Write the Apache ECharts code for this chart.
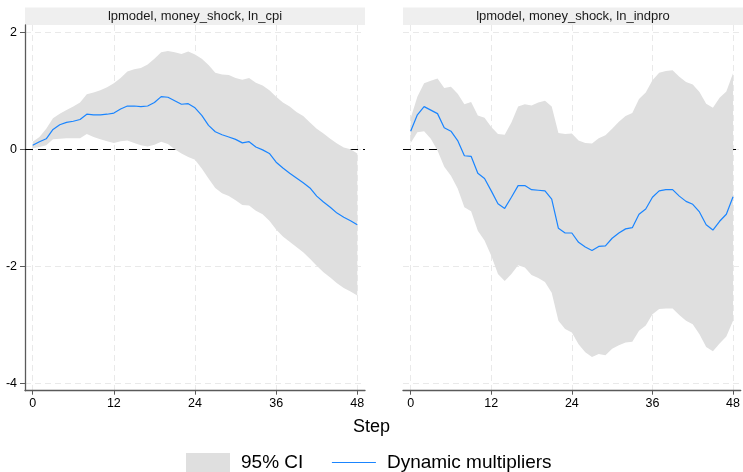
<!DOCTYPE html>
<html>
<head>
<meta charset="utf-8">
<script src="https://cdn.jsdelivr.net/npm/echarts@6/dist/echarts.min.js"></script>
<style>
  html, body { margin: 0; padding: 0; background: #ffffff; }
  #chart { width: 743px; height: 472px; }
</style>
</head>
<body>
<div id="chart"></div>
<script>
// Impulse responses to a money shock, horizons 0..48 (local projections)
const panelTitles = ['lpmodel, money_shock, ln_cpi', 'lpmodel, money_shock, ln_indpro'];
const xTicks = [0, 12, 24, 36, 48];
const yTicks = [-4, -2, 0, 2];

// ln_cpi
const cpiMid = [0.07, 0.13, 0.18, 0.34, 0.42, 0.46, 0.48, 0.51, 0.60, 0.59, 0.59, 0.60, 0.62, 0.69, 0.74, 0.74, 0.73, 0.74, 0.80, 0.90, 0.89, 0.83, 0.77, 0.78, 0.71,
  0.58, 0.41, 0.30, 0.25, 0.21, 0.17, 0.11, 0.13, 0.04, -0.01, -0.07, -0.22, -0.32, -0.41, -0.49, -0.57, -0.66, -0.80, -0.90, -0.99, -1.09, -1.16, -1.22, -1.29];
const cpiUpper = [0.13, 0.21, 0.35, 0.53, 0.61, 0.67, 0.73, 0.80, 0.94, 0.97, 1.01, 1.06, 1.13, 1.22, 1.33, 1.37, 1.39, 1.45, 1.55, 1.66, 1.68, 1.66, 1.63, 1.67, 1.62,
  1.55, 1.44, 1.31, 1.28, 1.27, 1.22, 1.19, 1.22, 1.14, 1.09, 1.01, 0.90, 0.80, 0.73, 0.64, 0.57, 0.46, 0.35, 0.27, 0.18, 0.10, 0.03, 0.00, -0.07];
const cpiLower = [0.02, 0.04, 0.07, 0.17, 0.18, 0.19, 0.19, 0.19, 0.26, 0.21, 0.17, 0.14, 0.11, 0.14, 0.15, 0.11, 0.07, 0.05, 0.08, 0.13, 0.09, 0.00, -0.07, -0.13, -0.18,
  -0.33, -0.50, -0.66, -0.75, -0.80, -0.87, -0.95, -0.96, -1.05, -1.11, -1.22, -1.37, -1.49, -1.58, -1.67, -1.76, -1.87, -1.99, -2.10, -2.19, -2.29, -2.37, -2.43, -2.50];

// ln_indpro
const indMid = [0.31, 0.59, 0.73, 0.67, 0.61, 0.37, 0.31, 0.15, -0.11, -0.12, -0.41, -0.50, -0.71, -0.93, -1.01, -0.82, -0.62, -0.62, -0.69, -0.70, -0.71, -0.85, -1.35, -1.43, -1.43,
  -1.59, -1.67, -1.73, -1.66, -1.65, -1.52, -1.43, -1.36, -1.34, -1.11, -1.02, -0.82, -0.71, -0.69, -0.69, -0.80, -0.89, -0.94, -1.07, -1.29, -1.38, -1.23, -1.11, -0.81];
const indUpper = [0.53, 0.90, 1.13, 1.17, 1.21, 1.05, 1.07, 0.95, 0.77, 0.81, 0.58, 0.54, 0.38, 0.26, 0.25, 0.46, 0.73, 0.77, 0.75, 0.80, 0.83, 0.73, 0.28, 0.26, 0.27,
  0.15, 0.11, 0.10, 0.19, 0.24, 0.35, 0.47, 0.57, 0.62, 0.86, 0.97, 1.18, 1.31, 1.34, 1.35, 1.24, 1.15, 1.11, 0.98, 0.78, 0.71, 0.88, 0.99, 1.30];
const indLower = [0.11, 0.29, 0.31, 0.18, -0.02, -0.30, -0.45, -0.67, -0.99, -1.06, -1.39, -1.56, -1.82, -2.13, -2.25, -2.13, -1.98, -2.02, -2.15, -2.20, -2.27, -2.45, -2.93, -3.07, -3.13,
  -3.33, -3.47, -3.55, -3.50, -3.52, -3.41, -3.35, -3.30, -3.29, -3.10, -3.01, -2.82, -2.73, -2.72, -2.72, -2.83, -2.93, -2.99, -3.16, -3.38, -3.45, -3.32, -3.20, -2.93];

const FONT = "'Liberation Sans', Arial, Helvetica, sans-serif";
const BAND = '#dfdfdf';
const LINE = '#1a85ff';
const AXIS = '#5a5a5a';
const GRIDLINE = '#e9e9e9';

const panels = [
  { mid: cpiMid, upper: cpiUpper, lower: cpiLower },
  { mid: indMid, upper: indUpper, lower: indLower }
];
const gridBoxes = [
  { left: 25, top: 25, width: 340, height: 365.7 },
  { left: 403, top: 25, width: 340, height: 365.7 }
];

const pairs = arr => arr.map((v, k) => [k, v]);

// Confidence band: one filled polygon through the upper bounds and back along the lower bounds
function bandRenderer(lower, upper) {
  return function (params, api) {
    if (params.dataIndex !== 0) return;
    const pts = [];
    for (let k = 0; k < upper.length; k++) pts.push(api.coord([k, upper[k]]));
    for (let k = lower.length - 1; k >= 0; k--) pts.push(api.coord([k, lower[k]]));
    return { type: 'polygon', shape: { points: pts }, style: { fill: BAND }, silent: true };
  };
}

const xAxes = gridBoxes.map((g, i) => ({
  type: 'value', gridIndex: i, min: -1.14, max: 49.14,
  axisLine: { show: true, onZero: false, lineStyle: { color: AXIS, width: 1.3 } },
  axisTick: { show: true, length: 4, customValues: xTicks, lineStyle: { color: AXIS, width: 1 } },
  axisLabel: { customValues: xTicks, fontSize: 12.5, color: '#000', fontFamily: FONT, margin: 6 },
  splitLine: { show: true, lineStyle: { color: GRIDLINE, width: 1, type: [6, 4] } }
}));

const yAxes = gridBoxes.map((g, i) => ({
  type: 'value', gridIndex: i, min: -4.126, max: 2.125,
  axisLine: { show: i === 0, onZero: false, lineStyle: { color: AXIS, width: 1.3 } },
  axisTick: { show: i === 0, length: 5, customValues: yTicks, lineStyle: { color: AXIS, width: 1 } },
  axisLabel: { show: i === 0, customValues: yTicks, fontSize: 12.5, color: '#000', fontFamily: FONT, margin: 8 },
  splitLine: { show: true, lineStyle: { color: GRIDLINE, width: 1, type: [6, 4] } }
}));

const series = [];
panels.forEach((p, i) => {
  series.push({
    name: '95% CI', type: 'custom', xAxisIndex: i, yAxisIndex: i,
    data: p.lower.map((lo, k) => [k, lo, p.upper[k]]),
    encode: { x: 0, y: [1, 2] },
    renderItem: bandRenderer(p.lower, p.upper),
    itemStyle: { color: BAND }, silent: true, z: 3,
    markLine: {
      silent: true, symbol: 'none', z: 1, animation: false,
      label: { show: false },
      lineStyle: { color: '#000', width: 1.2, type: [8, 5] },
      data: [{ yAxis: 0 }]
    }
  });
  series.push({
    name: 'Dynamic multipliers', type: 'line', xAxisIndex: i, yAxisIndex: i,
    data: pairs(p.mid), symbol: 'none', silent: true,
    lineStyle: { color: LINE, width: 1.2 }, itemStyle: { color: LINE }, z: 4
  });
});

const graphics = [];
gridBoxes.forEach((g, i) => {
  graphics.push({
    type: 'rect', shape: { x: g.left, y: 7.5, width: g.width, height: 17.5 },
    style: { fill: '#efefef' }, silent: true
  });
  graphics.push({
    type: 'text', x: g.left + g.width / 2, y: 16.5,
    style: { text: panelTitles[i], fill: '#1a1a1a', font: '13px ' + FONT, align: 'center', verticalAlign: 'middle' },
    silent: true
  });
});
graphics.push({
  type: 'text', x: 371.5, y: 427,
  style: { text: 'Step', fill: '#000', font: '18px ' + FONT, align: 'center', verticalAlign: 'middle' },
  silent: true
});

const chart = echarts.init(document.getElementById('chart'), null, { renderer: 'canvas' });
chart.setOption({
  animation: false,
  backgroundColor: '#ffffff',
  grid: gridBoxes,
  xAxis: xAxes,
  yAxis: yAxes,
  legend: {
    left: 186, top: 453, padding: 0, itemWidth: 44, itemHeight: 19, itemGap: 28,
    selectedMode: false,
    textStyle: { fontSize: 19, color: '#000', fontFamily: FONT, padding: [0, 0, 0, 6] },
    data: [
      { name: '95% CI', icon: 'rect', itemStyle: { color: BAND } },
      { name: 'Dynamic multipliers', itemStyle: { opacity: 0 }, lineStyle: { color: LINE, width: 1.2 } }
    ]
  },
  graphic: graphics,
  series: series
});
</script>
</body>
</html>
